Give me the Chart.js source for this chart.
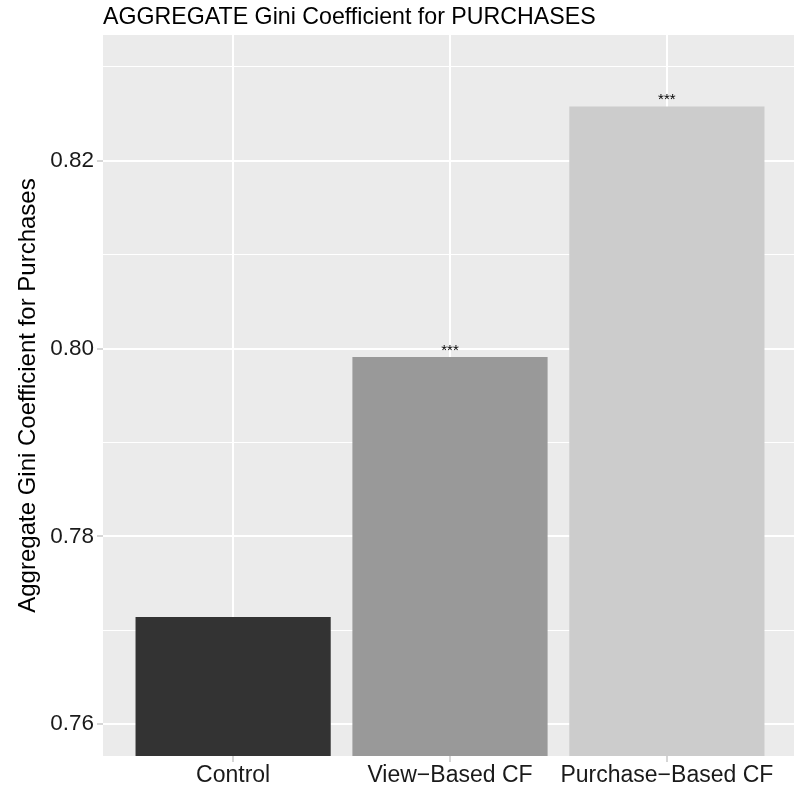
<!DOCTYPE html>
<html><head><meta charset="utf-8">
<script src="https://cdn.jsdelivr.net/npm/chart.js@4.4.1/dist/chart.umd.min.js"></script>
<style>
html,body{margin:0;padding:0;background:#fff;overflow:hidden;width:794px;height:787px}
#wrap{width:800px;height:787px;position:relative}
canvas{display:block}
</style></head><body><div id="wrap"><canvas id="c" width="800" height="787"></canvas></div>
<script>
const chartTitle = "AGGREGATE Gini Coefficient for PURCHASES";
const yAxisTitle = "Aggregate Gini Coefficient for Purchases";
const categories = ["Control", "View\u2212Based CF", "Purchase\u2212Based CF"];
const giniValues = [0.7714, 0.7991, 0.8258];
const significance = ["", "***", "***"];
const barColors = ["#333333", "#999999", "#CCCCCC"];
const yMajorTicks = [0.76, 0.78, 0.80, 0.82];
const yMinorTicks = [0.77, 0.79, 0.81, 0.83];
const yRange = [0.7566, 0.8334];

const FONT = "'Liberation Sans', Arial, Helvetica, sans-serif";
const isMajor = v => yMajorTicks.some(m => Math.abs(m - v) < 1e-6);

const panelBg = {
  id: 'panelBg',
  beforeDraw(chart) {
    const a = chart.chartArea, ctx = chart.ctx;
    ctx.save();
    ctx.fillStyle = '#EBEBEB';
    ctx.fillRect(a.left, a.top, a.right - a.left, a.bottom - a.top);
    ctx.restore();
  }
};
const starLabels = {
  id: 'starLabels',
  afterDatasetsDraw(chart) {
    const ctx = chart.ctx;
    const meta = chart.getDatasetMeta(0);
    ctx.save();
    ctx.fillStyle = '#000';
    ctx.font = '15px ' + FONT;
    ctx.textAlign = 'center';
    ctx.textBaseline = 'alphabetic';
    meta.data.forEach((el, i) => {
      if (significance[i]) ctx.fillText(significance[i], el.x, el.y - 2);
    });
    ctx.restore();
  }
};

new Chart(document.getElementById('c'), {
  type: 'bar',
  data: {
    datasets: [{
      data: giniValues.map((v, i) => ({x: i + 1, y: v})),
      backgroundColor: barColors,
      borderWidth: 0,
      categoryPercentage: 0.9,
      barPercentage: 1.0
    }]
  },
  options: {
    responsive: false,
    animation: false,
    layout: {padding: {left: 0, right: 3, top: 0, bottom: 0}},
    plugins: {
      legend: {display: false},
      tooltip: {enabled: false},
      title: {
        display: true, text: chartTitle, align: 'start', fullSize: false,
        color: '#000', font: {family: FONT, size: 23.2, weight: 'normal'},
        padding: {top: 3.5, bottom: 3.7}
      }
    },
    scales: {
      x: {
        type: 'linear', min: 0.4, max: 3.6, offset: false,
        afterBuildTicks: s => { s.ticks = categories.map((c, i) => ({value: i + 1})); },
        afterFit: s => { s.height = 31; },
        ticks: {
          callback: v => categories[Math.round(v) - 1] || '',
          color: '#1a1a1a', font: {family: FONT, size: 23}, padding: 0,
          maxRotation: 0, autoSkip: false
        },
        grid: {offset: false, color: '#FFFFFF', lineWidth: 2, tickLength: 6, tickColor: '#c8c8c8', tickWidth: 1.5},
        border: {display: false}
      },
      y: {
        min: yRange[0], max: yRange[1],
        afterBuildTicks: s => { s.ticks = yMajorTicks.concat(yMinorTicks).sort().map(v => ({value: v})); },
        afterFit: s => { s.width = 103; },
        ticks: {
          callback: v => isMajor(v) ? v.toFixed(2) : '',
          color: '#1a1a1a', font: {family: FONT, size: 22.5}, padding: 3, autoSkip: false
        },
        grid: {
          color: '#FFFFFF',
          lineWidth: c => (c.tick && isMajor(c.tick.value)) ? 2 : 1,
          tickLength: 6,
          tickColor: c => (c.tick && isMajor(c.tick.value)) ? '#c8c8c8' : 'rgba(0,0,0,0)',
          tickWidth: 1.5
        },
        border: {display: false},
        title: {
          display: true, text: yAxisTitle, color: '#000',
          font: {family: FONT, size: 24, weight: 'normal'},
          padding: {top: 14, bottom: 0}
        }
      }
    }
  },
  plugins: [panelBg, starLabels]
});
</script></body></html>
